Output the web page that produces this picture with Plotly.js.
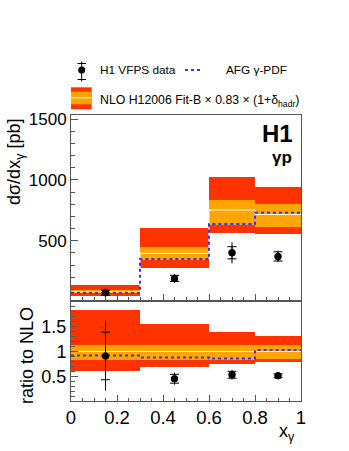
<!DOCTYPE html>
<html>
<head>
<meta charset="utf-8">
<script src="https://cdn.plot.ly/plotly-3.0.1.min.js"></script>
<style>html,body{margin:0;padding:0;background:#fff;}#chart{width:349px;height:451px;}</style>
</head>
<body>
<div id="chart"></div>
<script>
// ---- data ----
const binLow  = [0.0, 0.3, 0.6, 0.8];
const binHigh = [0.3, 0.6, 0.8, 1.0];
const stepEdges = [0.0, 0.3, 0.6, 0.8, 1.0];

// upper panel: d sigma / d x_gamma [pb]
const xsecData = [72, 190, 401, 371];
const xsecStat = [20, 25, 50, 38];
const xsecTot  = [35, 37, 87, 48];
const nloCentral = [80, 396, 753, 716];
const nloTotLow  = [47, 272, 561, 555];
const nloTotHigh = [135, 607, 1027, 940];
const nloScaleLow  = [70, 341, 630, 616];
const nloScaleHigh = [92, 446, 835, 800];
const afgPdf = [72, 349, 637, 731];

// lower panel: ratio to NLO
const ratioData = [0.91, 0.45, 0.53, 0.51];
const ratioStat = [0.48, 0.09, 0.07, 0.04];
const ratioTot  = [0.70, 0.12, 0.10, 0.06];
const ratioCentral = [1.0, 1.0, 1.0, 1.0];
const ratioTotLow  = [0.61, 0.69, 0.75, 0.78];
const ratioTotHigh = [1.84, 1.56, 1.39, 1.32];
const ratioScaleLow  = [0.83, 0.83, 0.83, 0.85];
const ratioScaleHigh = [1.13, 1.13, 1.13, 1.13];
const ratioAfg = [0.92, 0.88, 0.86, 1.03];

const xTickVals = [0, 0.2, 0.4, 0.6, 0.8, 1];
const xTickText = ["0", "0.2", "0.4", "0.6", "0.8", "1"];
const yTickVals = [500, 1000, 1500];
const yTickText = ["500", "1000", "1500"];
const rTickVals = [0.5, 1, 1.5];
const rTickText = ["0.5", "1", "1.5"];

// ---- styling ----
const RED = '#ff3300', ORANGE = '#ffa500', BLUE = '#3333ff';
const FONT = 'Liberation Sans, Arial, Helvetica, sans-serif';
const W = 349, H = 451;
const px = v => v / W;
const py = v => 1 - v / H;

const centers = binLow.map((l, i) => (l + binHigh[i]) / 2);
const widths = binLow.map((l, i) => binHigh[i] - l);
const step = arr => arr.concat([arr[arr.length - 1]]);

function band(xa, ya, lo, hi, color) {
  return {type: 'bar', xaxis: xa, yaxis: ya, x: centers, width: widths,
    base: lo, y: hi.map((h, i) => h - lo[i]),
    marker: {color: color, line: {width: 0}}, hoverinfo: 'skip', showlegend: false};
}
function stepLine(xa, ya, vals, color, dash, w) {
  return {type: 'scatter', mode: 'lines', xaxis: xa, yaxis: ya, x: stepEdges, y: step(vals),
    line: {shape: 'hv', color: color, dash: dash, width: w}, hoverinfo: 'skip', showlegend: false};
}
function points(xa, ya, vals, err, capw) {
  return {type: 'scatter', mode: 'markers', xaxis: xa, yaxis: ya, x: centers, y: vals,
    marker: {color: 'black', size: 7, symbol: 'circle'},
    error_y: {type: 'data', symmetric: true, array: err, color: 'black', thickness: 1, width: capw},
    hoverinfo: 'skip', showlegend: false};
}

const traces = [
  band('x', 'y', nloTotLow, nloTotHigh, RED),
  band('x', 'y', nloScaleLow, nloScaleHigh, ORANGE),
  stepLine('x', 'y', nloCentral, '#ffffff', 'solid', 1),
  stepLine('x', 'y', afgPdf, BLUE, 'dot', 2),
  points('x', 'y', xsecData, xsecTot, 0),
  points('x', 'y', xsecData, xsecStat, 4.5),

  band('x2', 'y2', ratioTotLow, ratioTotHigh, RED),
  band('x2', 'y2', ratioScaleLow, ratioScaleHigh, ORANGE),
  stepLine('x2', 'y2', ratioCentral, '#fff4d0', 'solid', 1),
  stepLine('x2', 'y2', ratioAfg, BLUE, 'dot', 2),
  points('x2', 'y2', ratioData, ratioTot, 0),
  points('x2', 'y2', ratioData, ratioStat, 4.5)
];

const AX = '#555555';
const xdom = [px(71), px(301)];
const common = {showgrid: false, zeroline: false, showline: true, linecolor: AX, linewidth: 1,
  mirror: true, ticks: 'inside', tickcolor: AX, tickwidth: 1};

const layout = {
  width: W, height: H, margin: {l: 0, r: 0, t: 0, b: 0},
  paper_bgcolor: '#ffffff', plot_bgcolor: '#ffffff',
  font: {family: FONT, color: '#000000'},
  barmode: 'overlay', bargap: 0, showlegend: false,
  xaxis: Object.assign({}, common, {domain: xdom, range: [0, 1], anchor: 'y',
    tickvals: xTickVals, ticktext: xTickText, showticklabels: false, ticklen: 6,
    minor: {dtick: 0.05, ticks: 'inside', ticklen: 3, tickcolor: AX}}),
  yaxis: Object.assign({}, common, {domain: [py(300), py(115)], range: [12, 1535], anchor: 'x',
    tickvals: yTickVals, ticktext: yTickText, ticklen: 7, tickfont: {size: 17, family: FONT},
    minor: {dtick: 100, ticks: 'inside', ticklen: 3.5, tickcolor: AX}}),
  xaxis2: Object.assign({}, common, {domain: xdom, range: [0, 1], anchor: 'y2',
    tickvals: xTickVals, ticktext: xTickText, ticklen: 6, tickfont: {size: 18.5, family: FONT},
    minor: {dtick: 0.05, ticks: 'inside', ticklen: 3, tickcolor: AX}}),
  yaxis2: Object.assign({}, common, {domain: [py(401), py(302)], range: [0, 2], anchor: 'x2',
    tickvals: rTickVals, ticktext: rTickText, ticklen: 7, tickfont: {size: 18, family: FONT},
    minor: {dtick: 0.1, ticks: 'inside', ticklen: 3.5, tickcolor: AX}}),
  annotations: [
    {xref: 'paper', yref: 'paper', x: px(16), y: py(162), text: 'dσ/dx<sub>γ</sub> [pb]',
      textangle: -90, showarrow: false, xanchor: 'center', yanchor: 'middle', font: {size: 18, family: FONT}},
    {xref: 'paper', yref: 'paper', x: px(27), y: py(356), text: 'ratio to NLO',
      textangle: -90, showarrow: false, xanchor: 'center', yanchor: 'middle', font: {size: 18, family: FONT}},
    {xref: 'paper', yref: 'paper', x: px(297), y: py(432), text: 'x<sub>γ</sub>',
      showarrow: false, xanchor: 'right', yanchor: 'middle', font: {size: 18, family: FONT}},
    {xref: 'paper', yref: 'paper', x: px(294), y: py(133), text: '<b>H1</b>', borderpad: 0,
      showarrow: false, xanchor: 'right', yanchor: 'middle', font: {size: 24, family: FONT}},
    {xref: 'paper', yref: 'paper', x: px(293), y: py(157), text: '<b>γp</b>', borderpad: 0,
      showarrow: false, xanchor: 'right', yanchor: 'middle', font: {size: 17, family: FONT}},
    {xref: 'paper', yref: 'paper', x: px(98), y: py(70), text: 'H1 VFPS data',
      showarrow: false, xanchor: 'left', yanchor: 'middle', font: {size: 11.8, family: FONT}},
    {xref: 'paper', yref: 'paper', x: px(224), y: py(70), text: 'AFG γ-PDF',
      showarrow: false, xanchor: 'left', yanchor: 'middle', font: {size: 11.8, family: FONT}},
    {xref: 'paper', yref: 'paper', x: px(98), y: py(101), text: 'NLO H12006 Fit-B × 0.83 × (1+δ<sub>hadr</sub>)',
      showarrow: false, xanchor: 'left', yanchor: 'middle', font: {size: 12.3, family: FONT}}
  ],
  shapes: [
    // legend: data marker with error bar
    {type: 'line', xref: 'paper', yref: 'paper', x0: px(81.7), x1: px(81.7), y0: py(61.5), y1: py(81.5), line: {color: 'black', width: 1}},
    {type: 'line', xref: 'paper', yref: 'paper', x0: px(77.5), x1: px(86), y0: py(63.5), y1: py(63.5), line: {color: 'black', width: 1}},
    {type: 'line', xref: 'paper', yref: 'paper', x0: px(77.5), x1: px(86), y0: py(79.5), y1: py(79.5), line: {color: 'black', width: 1}},
    {type: 'circle', xref: 'paper', yref: 'paper', x0: px(78.2), x1: px(85.2), y0: py(73.5), y1: py(66.5), fillcolor: 'black', line: {width: 0}},
    // legend: AFG dotted line
    {type: 'line', xref: 'paper', yref: 'paper', x0: px(185), x1: px(203), y0: py(70), y1: py(70), line: {color: BLUE, width: 2, dash: 'dot'}},
    // legend: NLO band box
    {type: 'rect', xref: 'paper', yref: 'paper', x0: px(71), x1: px(91.7), y0: py(109.3), y1: py(87.3), fillcolor: RED, line: {width: 0}},
    {type: 'rect', xref: 'paper', yref: 'paper', x0: px(71), x1: px(91.7), y0: py(104.3), y1: py(91.7), fillcolor: ORANGE, line: {width: 0}},
    {type: 'line', xref: 'paper', yref: 'paper', x0: px(71), x1: px(91.7), y0: py(97.8), y1: py(97.8), line: {color: '#ffffff', width: 1}}
  ]
};

Plotly.newPlot('chart', traces, layout, {staticPlot: true, displayModeBar: false});
</script>
</body>
</html>
